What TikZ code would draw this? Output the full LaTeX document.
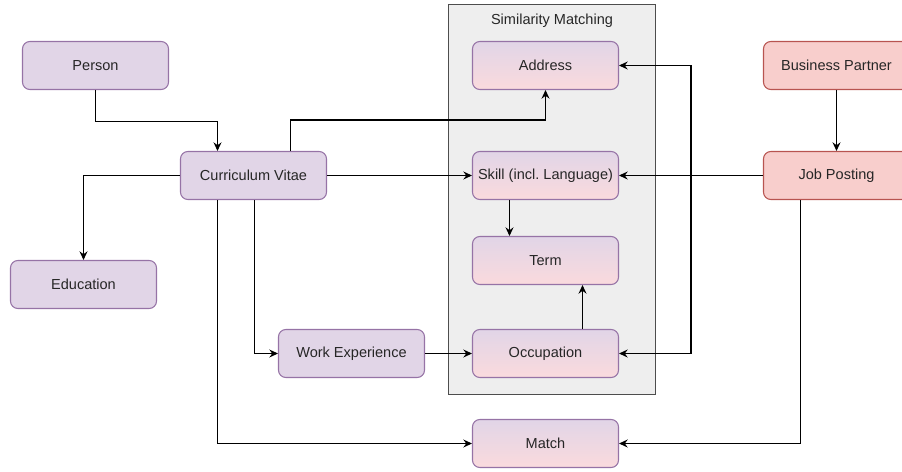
\documentclass[tikz,border=0pt]{standalone}
\usepackage{fontspec}
\setmainfont{Liberation Sans}
\usepackage{tikz}
\usepackage{xcolor}
\usetikzlibrary{arrows.meta,calc}
\tikzset{every picture/.style={line width=0.75pt}}
\definecolor{purpfill}{HTML}{E1D5E7}
\definecolor{purpline}{HTML}{9673A6}
\definecolor{pinkfill}{HTML}{FADADD}
\definecolor{redfill}{HTML}{F8CECC}
\definecolor{redline}{HTML}{B85450}
\definecolor{groupfill}{HTML}{EEEEEE}
\definecolor{groupline}{HTML}{4D4D4D}
\tikzset{
  entity/.style={rounded corners=5.5pt, minimum width=109.5pt, minimum height=36pt,
    inner sep=0pt, line width=0.8pt, font=\fontsize{10.9}{13}\selectfont, text=black!85},
  purplebox/.style={entity, draw=purpline, fill=purpfill},
  gradbox/.style={entity, draw=purpline, top color=purpfill, bottom color=pinkfill},
  redbox/.style={entity, draw=redline, fill=redfill},
  conn/.style={line width=0.8pt, -{Stealth[length=6.5pt,width=6pt,inset=2.2pt]}},
}

\begin{document}
\begin{tikzpicture}[x=0.75pt,y=0.75pt,yscale=-1,xscale=1]
\useasboundingbox (-0.5,-0.5) rectangle (901.5,470.5);
\clip (-0.5,-0.5) rectangle (901.5,470.5);

%Shape: Rectangle [group]
\draw [draw=groupline, fill=groupfill, line width=0.8pt] (448,4) rectangle (655,394) ;
% Text Node
\node [font=\fontsize{10.9}{13}\selectfont, text=black!85] (simtitle) at (551.5,20) {Similarity Matching};

%Shape: Rounded Rect
\node [purplebox] (person) at (95,65) {Person};
\node [purplebox] (cv) at (253,175) {Curriculum Vitae};
\node [purplebox] (edu) at (83,284) {Education};
\node [purplebox] (work) at (351,353) {Work Experience};
%Shape: Rounded Rect (gradient)
\node [gradbox] (addr) at (545,65) {Address};
\node [gradbox] (skill) at (545,175) {Skill (incl.\ Language)};
\node [gradbox] (term) at (545,260) {Term};
\node [gradbox] (occ) at (545,353) {Occupation};
\node [gradbox] (match) at (545,443) {Match};
%Shape: Rounded Rect (red)
\node [redbox] (bp) at (836,65) {Business Partner};
\node [redbox] (job) at (836,175) {Job Posting};

%Connectors
\draw [conn] (person.south) -- ++(0,31) -| ($(cv.north)+(-36,0)$) ;
\draw [conn] ($(cv.north)+(37,0)$) -- ++(0,-31) -| (addr.south) ;
\draw [conn] (cv.west) -| (edu.north) ;
\draw [conn] (cv.east) -- (skill.west) ;
\draw [conn] ($(cv.south)+(-36,0)$) |- (match.west) ;
\draw [conn] ($(cv.south)+(1,0)$) |- (work.west) ;
\draw [conn] (work.east) -- (occ.west) ;
\draw [conn] ($(skill.south)+(-36,0)$) -- ($(term.north)+(-36,0)$) ;
\draw [conn] ($(occ.north)+(37,0)$) -- ($(term.south)+(37,0)$) ;
\draw [conn] (job.west) -- (skill.east) ;
\draw [conn] (job.west) -- ++(-72,0) |- (addr.east) ;
\draw [conn] (job.west) -- ++(-72,0) |- (occ.east) ;
\draw [conn] ($(job.south)+(-36,0)$) |- (match.east) ;
\draw [conn] (bp.south) -- (job.north) ;

\end{tikzpicture}
\end{document}
